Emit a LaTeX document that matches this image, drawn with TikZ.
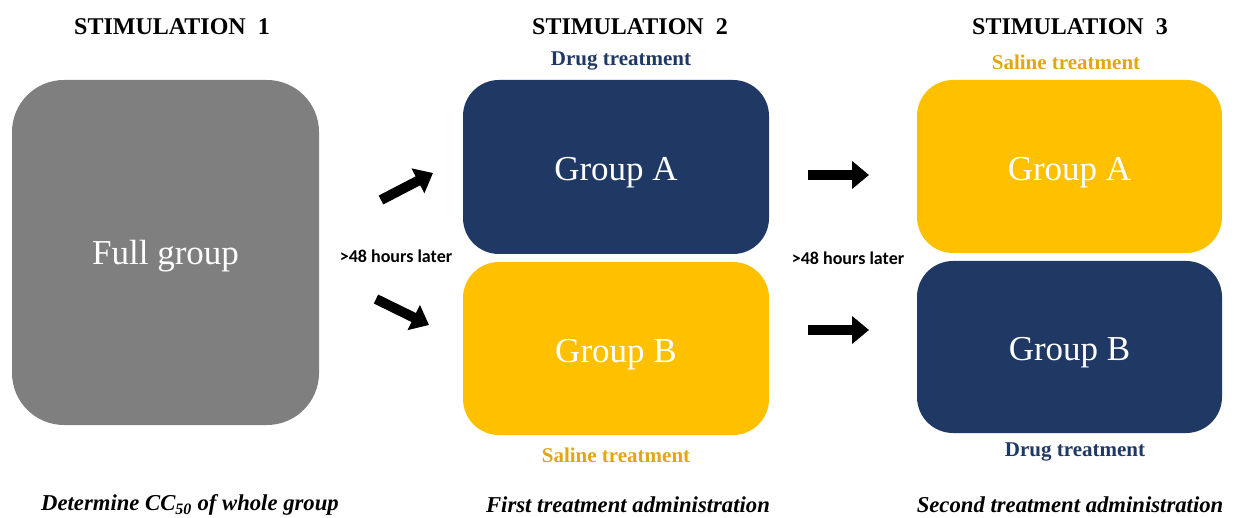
\documentclass[tikz,border=0pt]{standalone}
\usepackage{fontspec}
\setmainfont{Liberation Serif}
\newfontfamily\calib{Carlito}
\usetikzlibrary{arrows.meta}
\definecolor{navy}{HTML}{203864}
\definecolor{gold}{HTML}{FFC000}
\definecolor{goldtxt}{HTML}{E0A810}
\definecolor{greybox}{HTML}{7F7F7F}
\tikzset{
  box/.style={rounded corners=36pt, inner sep=0pt, text=white, font=\fontsize{35}{40}\selectfont, text depth=0pt, text height=27.4pt},
  title/.style={font=\bfseries\fontsize{24}{28}\selectfont, text=black},
  sub/.style={font=\bfseries\fontsize{21}{25}\selectfont},
  foot/.style={font=\bfseries\itshape\fontsize{22.7}{26}\selectfont},
  delay/.style={font=\calib\bfseries\fontsize{18}{21}\selectfont},
  fat/.style={line width=10pt, -{Triangle[length=17pt,width=27pt]}, black}
}
\begin{document}
\begin{tikzpicture}[x=1pt,y=-1pt]
\useasboundingbox (0,0) rectangle (1238,518);
% boxes
\node[box, rounded corners=52pt, fill=greybox, minimum width=307pt, minimum height=345pt, text height=24.5pt] (full) at (165.5,252.5) {Full group};
\node[box, fill=navy, minimum width=306pt, minimum height=174pt] (a2) at (616,167) {Group A};
\node[box, fill=gold, minimum width=306pt, minimum height=173pt] (b2) at (616,348.5) {Group B};
\node[box, fill=gold, minimum width=305pt, minimum height=173pt] (a3) at (1069.5,166.5) {Group A};
\node[box, fill=navy, minimum width=305pt, minimum height=172pt] (b3) at (1069.5,347) {Group B};
% titles
\node[title] (t1) at (172,27) {STIMULATION\ \ 1};
\node[title] (t2) at (630,27) {STIMULATION\ \ 2};
\node[title] (t3) at (1070,27) {STIMULATION\ \ 3};
% treatments
\node[sub, text=navy] (d2) at (621,61) {Drug treatment};
\node[sub, text=goldtxt] (s2) at (616,455) {Saline treatment};
\node[sub, text=goldtxt] (s3) at (1066,62) {Saline treatment};
\node[sub, text=navy] (d3) at (1075,452) {Drug treatment};
% delays
\node[delay] (h1) at (396,256) {>48 hours later};
\node[delay] (h2) at (848,258) {>48 hours later};
% footers
\node[foot] (f1) at (190,505) {Determine CC\textsubscript{50} of whole group};
\node[foot] (f2) at (628,505) {First treatment administration};
\node[foot] (f3) at (1070,505) {Second treatment administration};
% arrows
\coordinate (p1s) at (381,200);
\coordinate (p1e) at (433,173);
\coordinate (p2s) at (376,299);
\coordinate (p2e) at (429,325);
\coordinate (p3s) at (808,175);
\coordinate (p3e) at (869,175);
\coordinate (p4s) at (808,330);
\coordinate (p4e) at (869,330);
\draw[fat] (p1s) -- (p1e);
\draw[fat] (p2s) -- (p2e);
\draw[fat] (p3s) -- (p3e);
\draw[fat] (p4s) -- (p4e);
\end{tikzpicture}
\end{document}
